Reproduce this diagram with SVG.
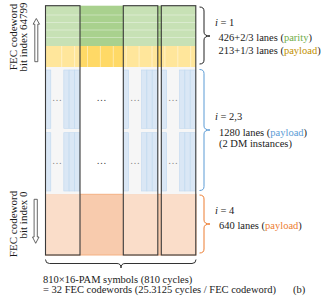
<svg xmlns="http://www.w3.org/2000/svg" width="328" height="305" viewBox="0 0 328 305">
<style>
text{font-family:"Liberation Serif","Times New Roman",serif;font-size:10.5px;fill:#1a1a1a}
.lbl{font-size:11px}
.dots{font-size:10px;fill:#404040;text-anchor:middle}
.box{fill:#ffffff;fill-opacity:0.35;stroke:#3a3a3a;stroke-width:1.1}
.gl{stroke:#ffffff;stroke-opacity:0.45;stroke-width:0.8}
.yl{stroke:#ffffff;stroke-opacity:0.55;stroke-width:0.8}
.bar{fill:#c6dbf0;stroke:#9dc3e6;stroke-width:0.6}
.brace{fill:none;stroke-width:1}
.arr{fill:#ffffff;stroke:#404040;stroke-width:0.8}
</style>
<defs>
<g id="bars">
<rect class="bar" x="0" y="0" width="5.3" height="58.3"/>
<rect class="bar" x="18.3" y="0" width="5.3" height="58.3"/>
<rect class="bar" x="23.6" y="0" width="5.3" height="58.3"/>
<rect class="bar" x="28.9" y="0" width="5.3" height="58.3"/>
</g>
</defs>
<g id="layers">
<rect x="45.5" y="5.7" width="150.5" height="40.3" fill="#a9d18e"/>
<path class="gl" d="M45.5 15H196M45.5 22.5H196M45.5 30H196M45.5 37.5H196"/>
<rect x="45.5" y="46" width="150.5" height="21" fill="#ffd966"/>
<path class="yl" d="M61.7 46V67M74.6 46V67M87.5 46V67M100.4 46V67M113.3 46V67M126.2 46V67M139.1 46V67M152 46V67M164.9 46V67M177.8 46V67M190.7 46V67"/>
<rect x="45.5" y="67" width="150.5" height="127" fill="#ffffff"/>
<rect x="45.5" y="194.3" width="150.5" height="60.7" fill="#f8cbad" stroke="#f4b183" stroke-width="1"/>
</g>
<g id="col1">
<rect x="45.5" y="67" width="34.5" height="127.3" fill="#f2f2f2"/>
<use href="#bars" x="45.5" y="70"/>
<use href="#bars" x="45.5" y="132.7"/>
<text class="dots" x="57" y="101">…</text>
<text class="dots" x="57" y="164">…</text>
<rect class="box" x="45.5" y="5.7" width="34.5" height="249.3"/>
</g>
<g id="gap">
<text class="dots" x="101.5" y="101">…</text>
<text class="dots" x="101.5" y="164">…</text>
</g>
<g id="col2">
<rect x="123.3" y="67" width="34.5" height="127.3" fill="#f2f2f2"/>
<use href="#bars" x="123.3" y="70"/>
<use href="#bars" x="123.3" y="132.7"/>
<text class="dots" x="135" y="101">…</text>
<text class="dots" x="135" y="164">…</text>
<rect class="box" x="123.3" y="5.7" width="34.5" height="249.3"/>
</g>
<g id="col3">
<rect x="161.3" y="67" width="34.5" height="127.3" fill="#f2f2f2"/>
<use href="#bars" x="161.3" y="70"/>
<use href="#bars" x="161.3" y="132.7"/>
<text class="dots" x="173" y="101">…</text>
<text class="dots" x="173" y="164">…</text>
<rect class="box" x="161.3" y="5.7" width="34.5" height="249.3"/>
</g>
<g id="connectors">
<path class="brace" stroke="#222" d="M199.5 7Q204 7 204 11V32Q204 36 210 36Q204 36 204 40V60Q204 64 199.5 64"/>
<path class="brace" stroke="#5b9bd5" d="M199.5 69.5Q204 69.5 204 73.5V126Q204 130 210 130Q204 130 204 134V186.5Q204 190.5 199.5 190.5"/>
<path class="brace" stroke="#ed7d31" d="M199.5 195Q204 195 204 199V220Q204 224 210 224Q204 224 204 228V249Q204 253 199.5 253"/>
<path class="brace" stroke="#333" d="M45.5 259.5Q45.5 263.5 49.5 263.5H117Q121 263.5 121 268Q121 263.5 125 263.5H192Q196 263.5 196 259.5"/>
<path class="arr" d="M36.3 18.5L39.5 24.2H37.8V61.7H34.8V24.2H33.1Z"/>
<path class="arr" d="M35.7 243.3L32.5 237H34.1V199.3H37.3V237H39Z"/>
</g>
<g id="labels">
<text class="lbl" transform="translate(17,37) rotate(-90)" text-anchor="middle">FEC codeword</text>
<text class="lbl" transform="translate(27,37) rotate(-90)" text-anchor="middle">bit index 64799</text>
<text class="lbl" transform="translate(17,224) rotate(-90)" text-anchor="middle">FEC codeword</text>
<text class="lbl" transform="translate(27,215) rotate(-90)" text-anchor="middle">bit index 0</text>
<text x="215" y="26"><tspan font-style="italic">i</tspan> = 1</text>
<text x="218.5" y="41">426+2/3 lanes (<tspan fill="#70ad47">parity</tspan>)</text>
<text x="218.5" y="54">213+1/3 lanes (<tspan fill="#bf9000">payload</tspan>)</text>
<text x="215" y="119.5"><tspan font-style="italic">i</tspan> = 2,3</text>
<text x="219" y="135.5">1280 lanes (<tspan fill="#5b9bd5">payload</tspan>)</text>
<text x="219" y="147">(2 DM instances)</text>
<text x="215" y="214"><tspan font-style="italic">i</tspan> = 4</text>
<text x="219" y="229">640 lanes (<tspan fill="#ed7d31">payload</tspan>)</text>
<text x="43" y="283">810×16-PAM symbols (810 cycles)</text>
<text x="43" y="293">= 32 FEC codewords (25.3125 cycles / FEC codeword)</text>
<text x="293" y="293">(b)</text>
</g>
</svg>
